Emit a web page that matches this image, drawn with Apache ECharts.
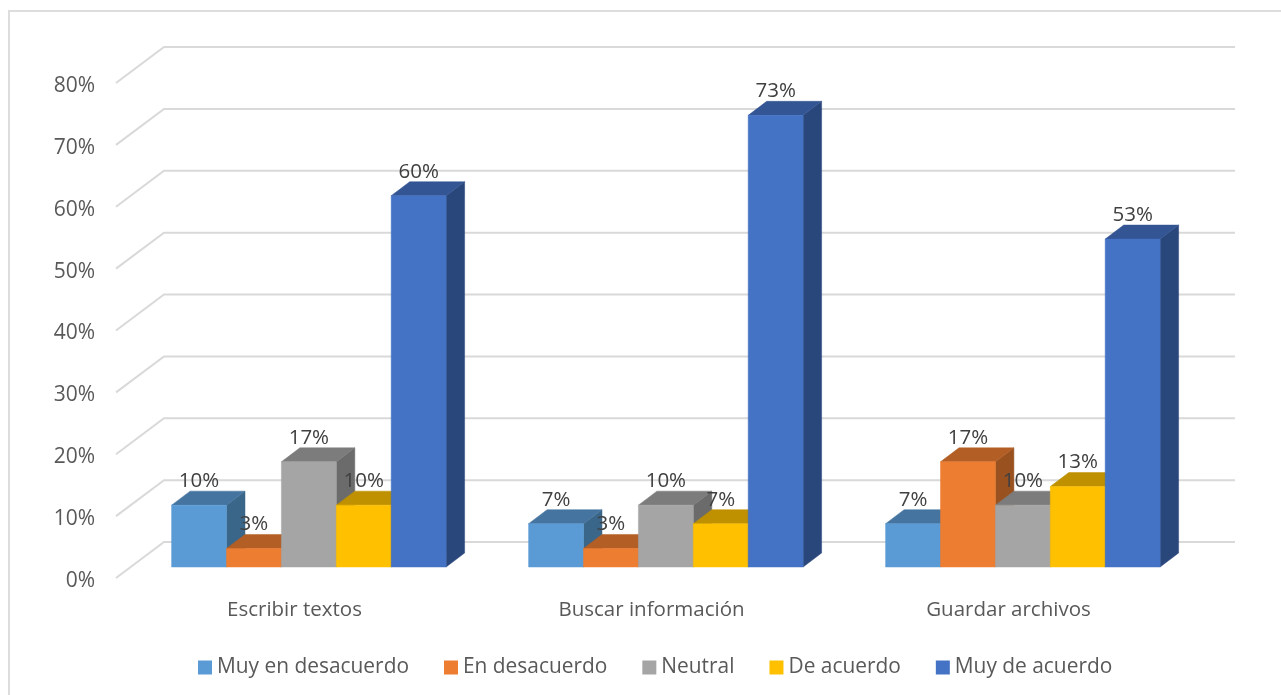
<!DOCTYPE html>
<html><head><meta charset="utf-8">
<style>html,body{margin:0;padding:0;background:#fff}#c{width:1281px;height:695px}</style>
<script src="https://cdn.jsdelivr.net/npm/echarts@6/dist/echarts.min.js"></script>
</head><body><div id="c"></div>
<script>
const categories = ['Escribir textos', 'Buscar información', 'Guardar archivos'];
const ticks = [0, 10, 20, 30, 40, 50, 60, 70, 80];
const muyEnDesacuerdo = [10, 7, 7];
const enDesacuerdo = [3, 3, 17];
const neutral = [17, 10, 10];
const deAcuerdo = [10, 7, 13];
const muyDeAcuerdo = [60, 73, 53];

const seriesDefs = [
  {name:'Muy en desacuerdo', values:muyEnDesacuerdo, color:'#5B9BD5', top:'#44749F', side:'#3A6689'},
  {name:'En desacuerdo', values:enDesacuerdo, color:'#ED7D31', top:'#B25E25', side:'#9A5120'},
  {name:'Neutral', values:neutral, color:'#A5A5A5', top:'#7C7C7C', side:'#6B6B6B'},
  {name:'De acuerdo', values:deAcuerdo, color:'#FFC000', top:'#BF9000', side:'#A67D00'},
  {name:'Muy de acuerdo', values:muyDeAcuerdo, color:'#4472C4', top:'#335593', side:'#2A477C'}
];
const FONT = '"Open Sans"';
const WALL_DX = 48, WALL_DY = 36;
const BAR_OFF_Y = 11, BAR_DX = 18.5, BAR_DY = 14;
const GROUP_LEFT = 55.6, BAR_W = 54.9;

const chart = echarts.init(document.getElementById('c'), null, {renderer:'canvas'});

function poly(points, fill){
  return {type:'polygon', shape:{points}, style:{fill, stroke:fill, lineWidth:0.5}};
}
function barSeries(def, si){
  return {
    type:'custom', name:def.name, coordinateSystem:'cartesian2d', clip:false, z:3,
    itemStyle:{color:def.color},
    data: def.values.map((v,i)=>[i,v]),
    renderItem(params, api){
      const top = api.coord([api.value(0), api.value(1)]);
      const zero = api.coord([api.value(0), 0]);
      const catW = api.size([1,0])[0];
      const x0 = top[0] - catW/2 + GROUP_LEFT + si*BAR_W;
      const x1 = x0 + BAR_W;
      const yT = top[1] - BAR_OFF_Y, yB = zero[1] - BAR_OFF_Y;
      return {type:'group', children:[
        poly([[x1,yT],[x1+BAR_DX,yT-BAR_DY],[x1+BAR_DX,yB-BAR_DY],[x1,yB]], def.side),
        poly([[x0,yT],[x0+BAR_DX,yT-BAR_DY],[x1+BAR_DX,yT-BAR_DY],[x1,yT]], def.top),
        poly([[x0,yT],[x1,yT],[x1,yB],[x0,yB]], def.color),
        {type:'text', z2:100, style:{
          x:(x0+x1)/2, y:yT-BAR_DY-10, text:api.value(1)+'%', align:'center', verticalAlign:'middle',
          fill:'#404040', font:'20.5px '+FONT}}
      ]};
    }
  };
}
const gridSeries = {
  type:'custom', coordinateSystem:'cartesian2d', clip:false, z:1, silent:true,
  data: ticks.map(t=>[0,t]),
  renderItem(params, api){
    const p = api.coord([0, api.value(1)]);
    const cs = params.coordSys;
    return {type:'polyline', shape:{points:[
      [cs.x, p[1]], [cs.x+WALL_DX, p[1]-WALL_DY], [cs.x+cs.width+WALL_DX, p[1]-WALL_DY]
    ]}, style:{stroke:'#D9D9D9', lineWidth:2, fill:null}};
  }
};
chart.setOption({
  animation:false,
  backgroundColor:'#fff',
  graphic:[{type:'rect', silent:true, z:0, shape:{x:9,y:11,width:1320,height:720},
    style:{fill:'none', stroke:'#DDDDDD', lineWidth:2}}],
  grid:{left:116, right:94, top:83, height:495},
  xAxis:{type:'category', data:categories, axisLine:{show:false}, axisTick:{show:false}, splitLine:{show:false},
    axisLabel:{margin:22, color:'#595959', fontFamily:FONT, fontSize:20.5}},
  yAxis:{type:'value', min:0, max:80, interval:10, axisLine:{show:false}, axisTick:{show:false}, splitLine:{show:false},
    axisLabel:{margin:21, color:'#595959', fontFamily:FONT, fontSize:21, verticalAlign:'top', lineHeight:6, formatter:'{value}%'}},
  legend:{left:193, top:652, icon:'rect', itemWidth:14, itemHeight:14, itemGap:35, itemStyle:{borderWidth:0},
    data:seriesDefs.map(d=>d.name),
    textStyle:{color:'#595959', fontFamily:FONT, fontSize:20.9}, selectedMode:false},
  series:[gridSeries].concat(seriesDefs.map(barSeries))
});
</script></body></html>
